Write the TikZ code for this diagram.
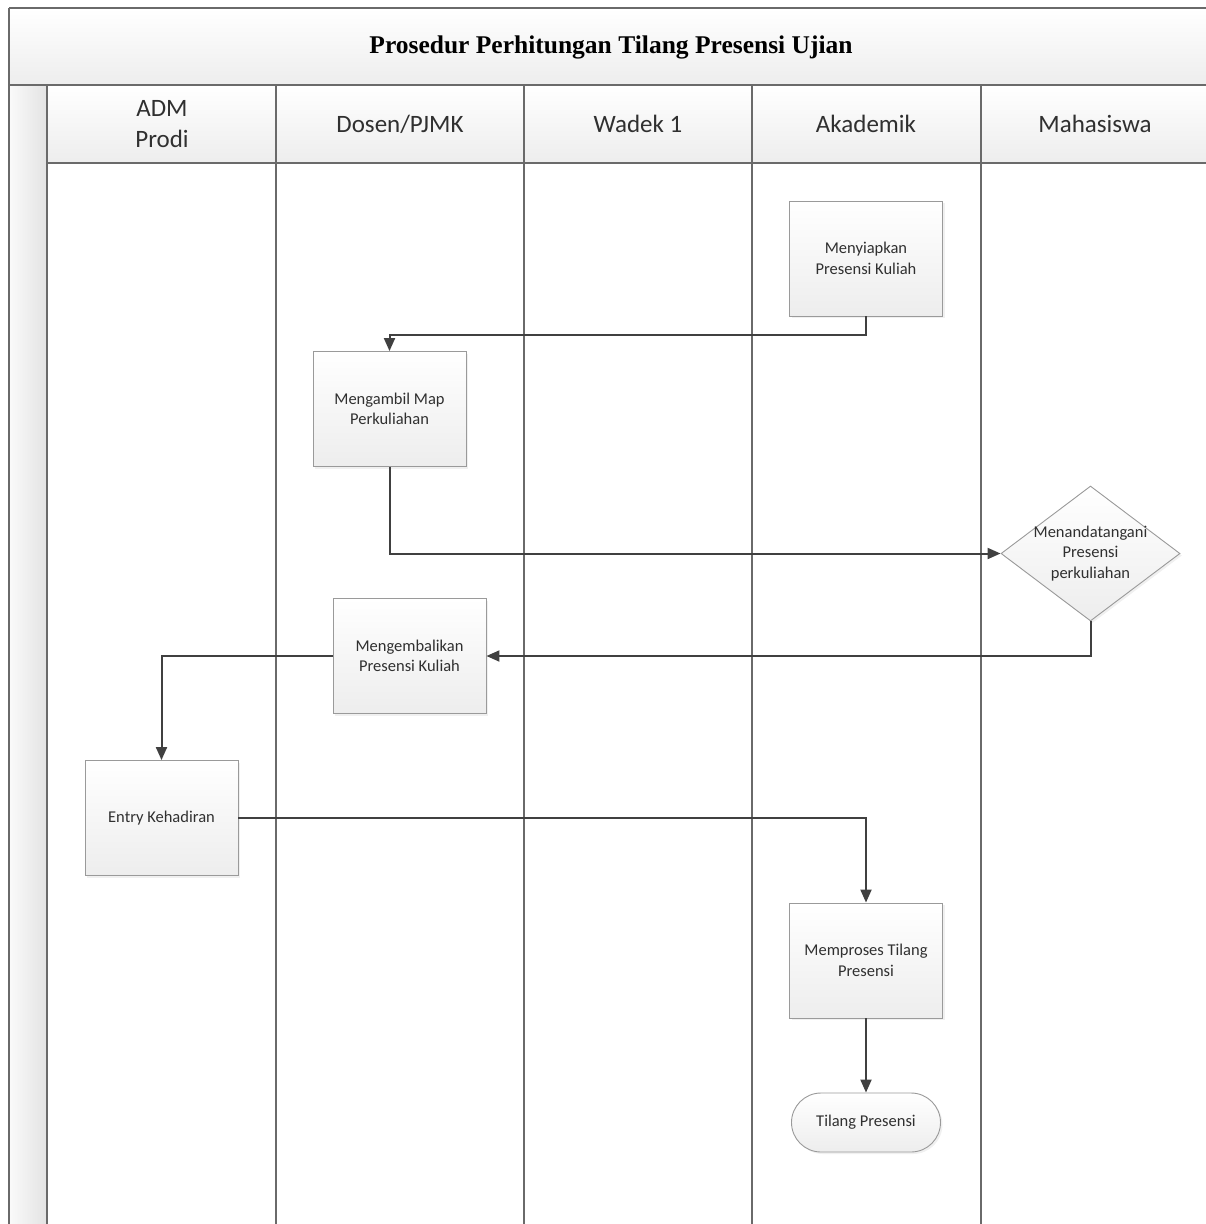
\documentclass[tikz,border=0pt]{standalone}
\usepackage{fontspec}
\setmainfont{Carlito}
\newfontfamily\titlefont{Liberation Serif}
\usetikzlibrary{shapes.geometric,shapes.misc,arrows.meta,shadows}
\definecolor{lanegray}{HTML}{6A6A6A}
\definecolor{boxgray}{HTML}{9A9A9A}
\definecolor{arrowgray}{HTML}{404040}
\definecolor{txtgray}{HTML}{303030}
\tikzset{
  procbox/.style={draw=boxgray, line width=0.9pt, top color=white, bottom color=gray!14,
    minimum width=153pt, minimum height=115pt, inner sep=2pt, align=center,
    font=\fontsize{16.5}{20.5}\selectfont, text=txtgray,
    drop shadow={opacity=0.12, shadow xshift=2pt, shadow yshift=-2pt}},
  decbox/.style={diamond, draw=boxgray, line width=0.9pt, top color=white, bottom color=gray!14,
    minimum width=179pt, minimum height=135pt, aspect=1.33, inner sep=-12pt, align=center,
    font=\fontsize{16.5}{20.5}\selectfont, text=txtgray,
    drop shadow={opacity=0.12, shadow xshift=2pt, shadow yshift=-2pt}},
  termbox/.style={rounded rectangle, draw=boxgray, line width=0.9pt, top color=white, bottom color=gray!14,
    minimum width=153pt, minimum height=59pt, inner sep=2pt, align=center,
    font=\fontsize{16.5}{20.5}\selectfont, text=txtgray,
    drop shadow={opacity=0.12, shadow xshift=2pt, shadow yshift=-2pt}},
  flow/.style={draw=arrowgray, line width=2pt, -{Triangle[length=13pt,width=11pt]}},
  laneline/.style={draw=lanegray, line width=1.4pt},
  lanehead/.style={font=\fontsize{25}{31}\selectfont, text=txtgray, align=center},
}
\begin{document}
\begin{tikzpicture}[x=1pt,y=-1pt]
\useasboundingbox (0,0) rectangle (1206,1224);
\begin{scope}
\clip (0,0) rectangle (1206,1224);
% title band
\shade[top color=white, bottom color=gray!14] (9,8) rectangle (1220,85);
% left strip
\shade[left color=gray!4, right color=gray!22] (9,85) rectangle (47,1240);
% lane headers
\shade[top color=white, bottom color=gray!14] (47,85) rectangle (1220,163);
% frame lines
\draw[laneline] (9,8) -- (1220,8);
\draw[laneline] (9,8) -- (9,1240);
\draw[laneline] (9,85) -- (1220,85);
\draw[laneline] (47,163) -- (1220,163);
\foreach \xx in {47,276,524,752,981} {
  \draw[laneline] (\xx,85) -- (\xx,1240);
}
\end{scope}
\node[font=\titlefont\bfseries\fontsize{25.5}{30}\selectfont, text=black] (title) at (611,47) {Prosedur Perhitungan Tilang Presensi Ujian};
\node[lanehead] (h1) at (162,124) {ADM\\Prodi};
\node[lanehead] (h2) at (400,124) {Dosen/PJMK};
\node[lanehead] (h3) at (638,124) {Wadek 1};
\node[lanehead] (h4) at (866,124) {Akademik};
\node[lanehead] (h5) at (1095,124) {Mahasiswa};

\node[procbox] (siap) at (866,258.5) {Menyiapkan\\Presensi Kuliah};
\node[procbox] (ambil) at (389.5,409) {Mengambil Map\\Perkuliahan};
\node[decbox] (tanda) at (1090.5,553.5) {Menandatangani\\Presensi\\perkuliahan};
\node[procbox] (kembali) at (409.5,656) {Mengembalikan\\Presensi Kuliah};
\node[procbox] (entry) at (161.5,818) {Entry Kehadiran};
\node[procbox] (proses) at (866,960.5) {Memproses Tilang\\Presensi};
\node[termbox] (tilang) at (866,1122.5) {Tilang Presensi};

\draw[flow] (siap.south) -- (866,335) -- (389.5,335) -- (ambil.north);
\draw[flow] (ambil.south) -- (389.5,553.5) -- (tanda.west);
\draw[flow] (tanda.south) -- (1090.5,656) -- (kembali.east);
\draw[flow] (kembali.west) -- (161.5,656) -- (entry.north);
\draw[flow] (entry.east) -- (866,818) -- (proses.north);
\draw[flow] (proses.south) -- (tilang.north);
\end{tikzpicture}
\end{document}
